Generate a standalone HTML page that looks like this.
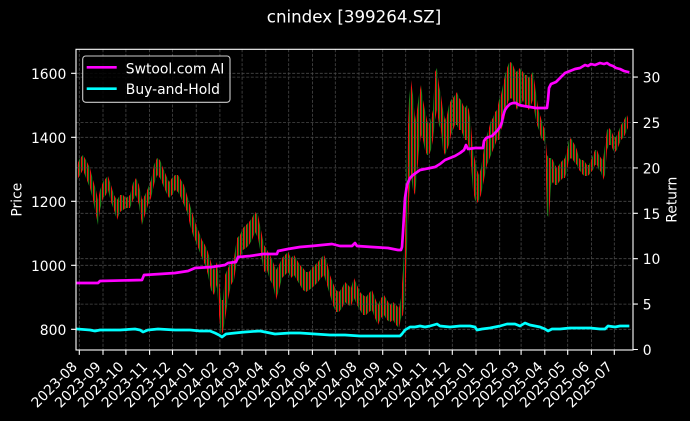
<!DOCTYPE html>
<html><head><meta charset="utf-8"><style>
html,body{margin:0;padding:0;background:#000;}
svg{display:block;}
text{font-family:"DejaVu Sans","Liberation Sans",sans-serif;fill:#fff;}
</style></head><body>
<svg width="690" height="421" viewBox="0 0 690 421" xmlns="http://www.w3.org/2000/svg">
<defs>
<pattern id="cd" patternUnits="userSpaceOnUse" width="3" height="4">
<rect x="0" y="0" width="1.1" height="4" fill="#f01010"/>
<rect x="1.1" y="0" width="1.1" height="4" fill="#1c8a1c"/>
</pattern>
</defs>
<rect width="690" height="421" fill="#000"/>
<text x="354" y="22.7" font-size="16.67" text-anchor="middle">cnindex [399264.SZ]</text>

<g stroke="#484848" stroke-width="0.8" stroke-dasharray="3,1.6" fill="none">
<path d="M79.3 49.3V350M103 49.3V350M125.9 49.3V350M149.6 49.3V350M172.5 49.3V350M196.2 49.3V350M219.9 49.3V350M242.1 49.3V350M265.8 49.3V350M288.7 49.3V350M312.4 49.3V350M335.3 49.3V350M359 49.3V350M382.7 49.3V350M405.7 49.3V350M429.3 49.3V350M452.3 49.3V350M476 49.3V350M499.7 49.3V350M521.1 49.3V350M544.8 49.3V350M567.7 49.3V350M591.4 49.3V350M614.3 49.3V350"/>
<path d="M76 73.3H633M76 137.3H633M76 201.3H633M76 265.3H633M76 329.3H633"/>
</g>

<polygon fill="url(#cd)" points="77,165 80,158 83,155 86,160 90,168 93,180 96,190 98,200 100,190 103,182 106,178 108,176 111,185 114,195 117,200 120,195 123,195 126,198 130,195 133,183 136,178 139,185 142,200 145,195 148,188 151,180 154,165 157,158 160,160 163,168 166,175 169,182 172,178 175,175 178,175 181,180 184,185 187,195 190,205 193,215 196,225 199,232 202,240 205,245 208,252 211,262 214,270 217,262 219,280 221,300 223,300 225,275 228,268 231,262 234,258 237,238 240,235 243,228 246,225 249,222 252,218 255,212 258,215 261,230 264,245 267,250 270,255 273,262 276,270 279,265 282,258 285,255 288,252 291,258 294,255 297,260 300,265 303,268 306,272 309,272 312,268 315,265 318,262 321,258 324,255 327,262 330,275 333,283 336,290 339,292 342,288 345,282 348,285 351,288 354,278 357,285 360,292 363,295 366,297 369,293 372,290 375,298 378,305 381,298 384,295 387,300 390,305 393,302 396,305 399,308 401,298 403,270 405,235 407,150 409,100 411,80 413,95 415,120 417,110 419,95 421,85 423,100 425,110 427,120 429,125 431,118 433,110 435,72 437,68 439,85 441,95 443,110 445,120 447,115 449,105 451,100 453,98 455,95 457,92 459,98 461,100 463,105 465,108 467,105 469,110 471,125 473,150 475,160 477,170 479,175 481,168 483,155 485,140 487,135 489,128 491,120 493,118 495,112 497,110 499,100 501,95 503,85 505,75 507,68 509,63 511,62 513,65 515,70 517,72 519,68 521,70 523,72 525,75 527,75 529,78 531,75 533,72 535,85 537,100 539,112 541,118 543,125 545,130 547,155 549,158 551,158 553,160 555,165 557,168 559,165 561,162 563,160 565,158 567,150 569,140 571,138 573,142 575,145 577,150 579,158 581,160 583,160 585,162 587,165 589,165 591,160 593,155 595,150 597,150 599,155 601,158 603,160 605,145 607,130 609,128 611,130 613,135 615,138 617,135 619,130 621,125 623,122 625,118 627,115 628,118 628,128 627,130 625,135 623,138 621,140 619,145 617,150 615,152 613,150 611,145 609,145 607,150 605,175 603,180 601,172 599,170 597,165 595,165 593,170 591,172 589,175 587,176 585,176 583,175 581,172 579,170 577,165 575,163 573,160 571,158 569,160 567,170 565,178 563,178 561,180 559,182 557,185 555,185 553,182 551,185 549,218 547,215 545,142 543,140 541,138 539,130 537,125 535,115 533,100 531,105 529,110 527,108 525,105 523,100 521,105 519,105 517,110 515,105 513,100 511,98 509,100 507,105 505,115 503,125 501,130 499,140 497,140 495,145 493,150 491,155 489,160 487,165 485,175 483,185 481,195 479,200 477,203 475,200 473,190 471,165 469,148 467,140 465,140 463,135 461,130 459,130 457,125 455,125 453,130 451,135 449,145 447,150 445,155 443,150 441,130 439,125 437,110 435,120 433,140 431,150 429,155 427,155 425,150 423,140 421,135 419,150 417,175 415,195 413,190 411,175 409,200 407,250 405,300 403,315 401,318 399,328 396,325 393,320 390,322 387,320 384,315 381,318 378,325 375,318 372,310 369,312 366,315 363,315 360,310 357,305 354,298 351,306 348,305 345,302 342,308 339,312 336,312 333,305 330,295 327,285 324,275 321,278 318,282 315,285 312,288 309,290 306,292 303,290 300,285 297,280 294,275 291,278 288,272 285,275 282,278 279,290 276,300 273,285 270,280 267,270 264,272 261,255 258,238 255,232 252,240 249,245 246,248 243,250 240,258 237,262 234,280 231,285 228,300 225,320 223,332 221,335 219,315 217,285 214,295 211,290 208,275 205,265 202,258 199,250 196,242 193,235 190,225 187,212 184,205 181,198 178,192 175,190 172,195 169,198 166,192 163,185 160,178 157,175 154,185 151,198 148,205 145,215 142,225 139,205 136,195 133,200 130,208 126,208 123,210 120,212 117,220 114,210 111,202 108,190 106,195 103,198 100,210 98,225 96,215 93,200 90,188 86,178 83,170 80,175 77,180"/>

<g stroke="#484848" stroke-width="0.8" stroke-dasharray="3,1.6" fill="none">
<path d="M76 304.1H633M76 258.7H633M76 213.3H633M76 167.9H633M76 122.5H633M76 77.1H633"/>
</g>

<polyline fill="none" stroke="#ff00ff" stroke-width="2.7" stroke-linejoin="round" stroke-linecap="square" points="77,283 98,283 100,281 142,280 144,275 160,274 175,273 188,271 195,268 212,267 225,265 228,263 236,262 238,257 250,256 263,254 277,254 278,251 288,249 300,247 312,246 332,244 340,246 352,246 355,243 357,246 372,247 388,248 398,250 401,250 402,247 403,232 404,215 405,198 407,185 410,178 413,175 420,170 430,168 435,167 440,164 445,160 450,158 455,156 460,153 464,150 466,145 468,149 475,148 483,148 484,141 486,138 492,136 497,131 500,127 502,122 503,116 505,110 507,107 510,104 513,103 516,103 519,105 524,106 530,107 536,108 547,108 548,100 549,88 551,84 556,82 560,78 565,73 570,71 575,69 580,68 585,65 588,66 591,64 595,65 600,63 604,64 607,63 610,65 613,66 616,68 620,69 624,71 628,72"/>

<polyline fill="none" stroke="#00ffff" stroke-width="2.7" stroke-linejoin="round" stroke-linecap="square" points="77,329 90,330 95,331 100,330 120,330 135,329 140,330 143,332 148,330 158,329 175,330 190,330 200,331 210,331 215,333 219,335 222,337 226,334 235,333 245,332 260,331 275,334 290,333 300,333 315,334 330,335 345,335 360,336 380,336 400,336 402,334 405,330 410,327 415,327 420,326 425,327 430,326 437,324 440,326 450,327 460,326 470,326 475,327 477,330 482,329 490,328 500,326 507,324 515,324 520,326 525,323 530,325 540,327 545,329 548,331 552,329 560,329 570,328 580,328 590,328 600,329 605,329 608,326 615,327 620,326 628,326"/>

<rect x="76" y="49.3" width="557" height="300.7" fill="none" stroke="#fff" stroke-width="1.1"/>

<g stroke="#fff" stroke-width="1.1">
<path d="M71.1 73.3H76M71.1 137.3H76M71.1 201.3H76M71.1 265.3H76M71.1 329.3H76"/>
<path d="M633 349.5H637.9M633 304.1H637.9M633 258.7H637.9M633 213.3H637.9M633 167.9H637.9M633 122.5H637.9M633 77.1H637.9"/>
<path d="M79.3 350V354.9M103 350V354.9M125.9 350V354.9M149.6 350V354.9M172.5 350V354.9M196.2 350V354.9M219.9 350V354.9M242.1 350V354.9M265.8 350V354.9M288.7 350V354.9M312.4 350V354.9M335.3 350V354.9M359 350V354.9M382.7 350V354.9M405.7 350V354.9M429.3 350V354.9M452.3 350V354.9M476 350V354.9M499.7 350V354.9M521.1 350V354.9M544.8 350V354.9M567.7 350V354.9M591.4 350V354.9M614.3 350V354.9"/>
</g>

<g font-size="13.9" text-anchor="end">
<text x="66.3" y="78.8">1600</text>
<text x="66.3" y="142.8">1400</text>
<text x="66.3" y="206.8">1200</text>
<text x="66.3" y="270.8">1000</text>
<text x="66.3" y="334.8">800</text>
</g>
<g font-size="13.9" text-anchor="start">
<text x="642.7" y="355">0</text>
<text x="642.7" y="309.6">5</text>
<text x="642.7" y="264.2">10</text>
<text x="642.7" y="218.8">15</text>
<text x="642.7" y="173.4">20</text>
<text x="642.7" y="128">25</text>
<text x="642.7" y="82.6">30</text>
</g>

<text font-size="13.9" text-anchor="middle" transform="translate(21.7,199.7) rotate(-90)">Price</text>
<text font-size="13.9" text-anchor="middle" transform="translate(676.6,199.7) rotate(-90)">Return</text>

<g font-size="13.9" text-anchor="end">
<text transform="translate(78,367.5) rotate(-45)">2023-08</text>
<text transform="translate(101.7,367.5) rotate(-45)">2023-09</text>
<text transform="translate(124.6,367.5) rotate(-45)">2023-10</text>
<text transform="translate(148.3,367.5) rotate(-45)">2023-11</text>
<text transform="translate(171.2,367.5) rotate(-45)">2023-12</text>
<text transform="translate(194.9,367.5) rotate(-45)">2024-01</text>
<text transform="translate(218.6,367.5) rotate(-45)">2024-02</text>
<text transform="translate(240.8,367.5) rotate(-45)">2024-03</text>
<text transform="translate(264.5,367.5) rotate(-45)">2024-04</text>
<text transform="translate(287.4,367.5) rotate(-45)">2024-05</text>
<text transform="translate(311.1,367.5) rotate(-45)">2024-06</text>
<text transform="translate(334,367.5) rotate(-45)">2024-07</text>
<text transform="translate(357.7,367.5) rotate(-45)">2024-08</text>
<text transform="translate(381.4,367.5) rotate(-45)">2024-09</text>
<text transform="translate(404.4,367.5) rotate(-45)">2024-10</text>
<text transform="translate(428,367.5) rotate(-45)">2024-11</text>
<text transform="translate(451,367.5) rotate(-45)">2024-12</text>
<text transform="translate(474.7,367.5) rotate(-45)">2025-01</text>
<text transform="translate(498.4,367.5) rotate(-45)">2025-02</text>
<text transform="translate(519.8,367.5) rotate(-45)">2025-03</text>
<text transform="translate(543.5,367.5) rotate(-45)">2025-04</text>
<text transform="translate(566.4,367.5) rotate(-45)">2025-05</text>
<text transform="translate(590.1,367.5) rotate(-45)">2025-06</text>
<text transform="translate(613,367.5) rotate(-45)">2025-07</text>
</g>

<rect x="82.7" y="56" width="147.3" height="46.3" rx="3" ry="3" fill="#000" fill-opacity="0.85" stroke="#cccccc" stroke-width="1.1"/>
<line x1="86.7" y1="67.3" x2="116.7" y2="67.3" stroke="#ff00ff" stroke-width="2.7"/>
<line x1="86.7" y1="88.7" x2="116.7" y2="88.7" stroke="#00ffff" stroke-width="2.7"/>
<text x="125.8" y="73.6" font-size="13.9">Swtool.com AI</text>
<text x="125.8" y="94" font-size="13.9">Buy-and-Hold</text>
</svg>
</body></html>
